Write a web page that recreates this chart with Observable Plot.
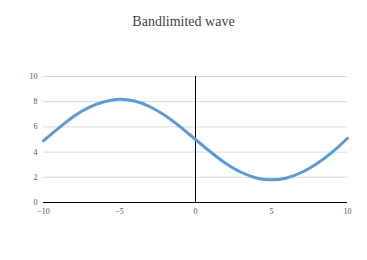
<!DOCTYPE html>
<html>
<head>
<meta charset="utf-8">
<script src="https://cdn.jsdelivr.net/npm/d3@7"></script>
<script src="https://cdn.jsdelivr.net/npm/@observablehq/plot@0.6"></script>
<style>
  body { margin: 0; background: #fff; }
  #title { height: 40px; box-sizing: border-box; padding-top: 13px; text-align: center;
           font: 14px "Liberation Serif", serif; color: #444; line-height: 18px; }
</style>
</head>
<body>
<div id="title">Bandlimited wave</div>
<div id="chart"></div>
<script>
const xs = [-10, -9, -8, -7, -6, -5, -4, -3, -2, -1, 0, 1, 2, 3, 4, 5, 6, 7, 8, 9, 10];
const ys = [4.9, 5.9, 6.85, 7.55, 8.0, 8.2, 8.05, 7.6, 6.9, 6.0, 5.0, 4.0, 3.1, 2.4, 1.95, 1.8, 1.95, 2.4, 3.1, 4.0, 5.1];
const xTicks = [-10, -5, 0, 5, 10];
const yTicks = [0, 2, 4, 6, 8, 10];

const data = xs.map((x, i) => ({x, y: ys[i]}));

const chart = Plot.plot({
  width: 367,
  height: 220,
  marginTop: 36,
  marginBottom: 58,
  marginLeft: 43,
  marginRight: 20,
  style: {fontFamily: "'Liberation Serif', serif", fontSize: "8px", color: "#555", background: "#fff"},
  x: {domain: [-10, 10], ticks: xTicks, tickSize: 0, tickPadding: 6, label: null},
  y: {domain: [0, 10], ticks: yTicks, tickSize: 0, tickPadding: 6, label: null},
  marks: [
    Plot.ruleY(yTicks.filter(d => d !== 0), {stroke: "#d9d9d9", strokeWidth: 1}),
    Plot.ruleX([0], {y1: 0, y2: 10, stroke: "#000", strokeWidth: 1}),
    Plot.ruleY([0], {stroke: "#000", strokeWidth: 1}),
    Plot.line(data, {x: "x", y: "y", stroke: "#5b9bd5", strokeWidth: 3, curve: "catmull-rom"})
  ]
});
document.getElementById("chart").appendChild(chart);
</script>
</body>
</html>
